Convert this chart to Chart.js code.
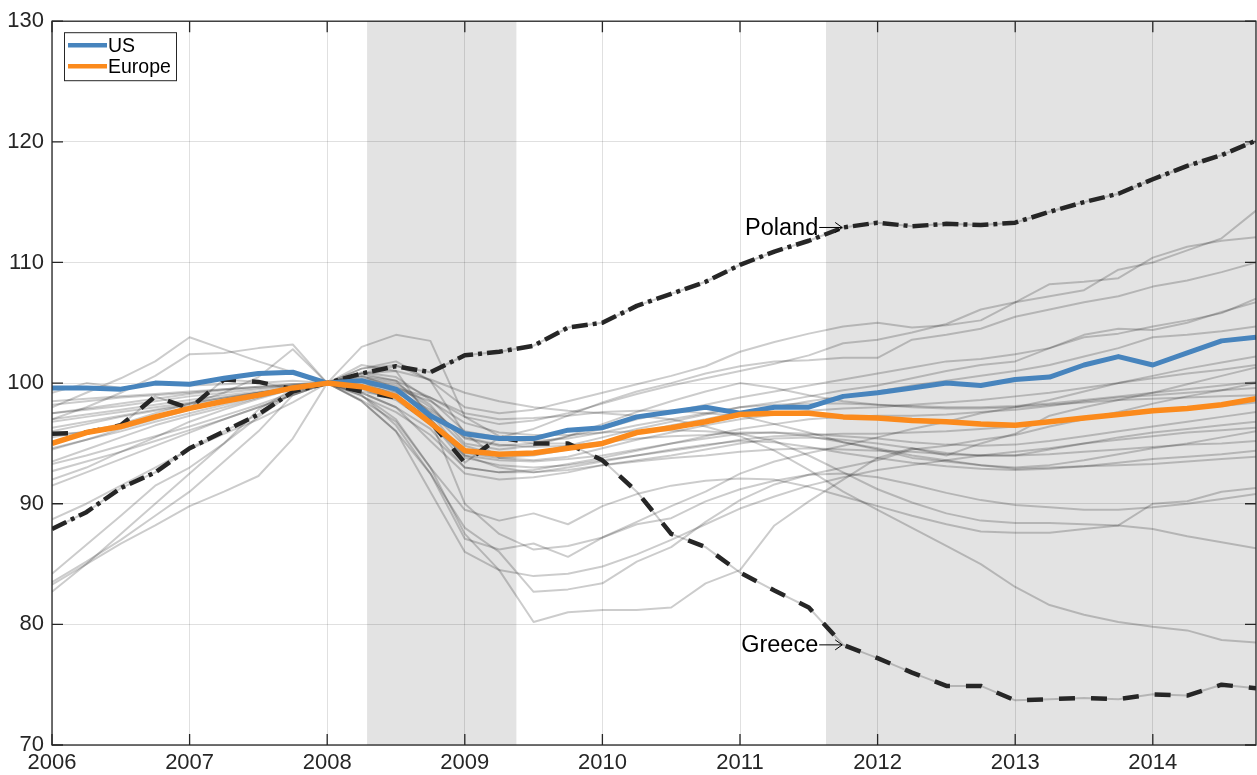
<!DOCTYPE html>
<html>
<head>
<meta charset="utf-8">
<script src="https://cdn.jsdelivr.net/npm/chart.js@4.4.1/dist/chart.umd.min.js"></script>
<style>
  html, body { margin: 0; padding: 0; background: #fff; }
  .wrap { width: 1257px; height: 775px; }
</style>
</head>
<body>
<div class="wrap"><canvas id="myChart"></canvas></div>
<script>
// quarters on the x axis
let quarters = [2006, 2006.25, 2006.5, 2006.75, 2007, 2007.25, 2007.5, 2007.75, 2008,
  2008.25, 2008.5, 2008.75, 2009, 2009.25, 2009.5, 2009.75, 2010, 2010.25,
  2010.5, 2010.75, 2011, 2011.25, 2011.5, 2011.75, 2012, 2012.25, 2012.5,
  2012.75, 2013, 2013.25, 2013.5, 2013.75, 2014, 2014.25, 2014.5, 2014.75];

let xTicks = [2006, 2007, 2008, 2009, 2010, 2011, 2012, 2013, 2014];
let yTicks = [70, 80, 90, 100, 110, 120, 130];

// shaded recession periods [start, end]
let recessions = [[2008.29, 2009.375], [2011.625, 2014.75]];

let us = [99.6, 99.6, 99.5, 100.0, 99.9, 100.4, 100.8, 100.9, 100,
  100.2, 99.5, 97.3, 95.8, 95.4, 95.4, 96.1, 96.3, 97.2,
  97.6, 98.0, 97.5, 98.0, 98.0, 98.9, 99.2, 99.6, 100.0,
  99.8, 100.3, 100.5, 101.5, 102.2, 101.5, 102.5, 103.5, 103.8];

let europe = [95.0, 95.9, 96.4, 97.2, 97.9, 98.5, 99.0, 99.6, 100,
  99.7, 98.9, 96.7, 94.4, 94.1, 94.2, 94.6, 95.0, 95.9,
  96.3, 96.8, 97.4, 97.5, 97.5, 97.2, 97.1, 96.9, 96.8,
  96.6, 96.5, 96.8, 97.1, 97.4, 97.7, 97.9, 98.2, 98.7];

let poland = [87.9, 89.3, 91.3, 92.6, 94.6, 96.0, 97.4, 99.3, 100,
  100.8, 101.4, 100.9, 102.3, 102.6, 103.1, 104.6, 105.0, 106.4,
  107.4, 108.4, 109.8, 110.9, 111.8, 112.9, 113.3, 113.0, 113.2,
  113.1, 113.3, 114.2, 115.0, 115.7, 116.9, 118.0, 118.9, 120.1];

let greece = [95.8, 95.9, 96.5, 98.9, 97.9, 100.3, 100.1, 99.5, 100,
  99.3, 98.8, 96.8, 93.4, 95.5, 95.0, 95.0, 93.6, 91.0,
  87.5, 86.4, 84.3, 82.8, 81.4, 78.3, 77.2, 76.0, 74.9,
  74.9, 73.7, 73.8, 73.9, 73.8, 74.2, 74.1, 75.0, 74.7];

// other european countries (grey)
let grey01 = [92.0, 93.0, 94.3, 95.5, 96.8, 97.8, 98.7, 99.5, 100, 100.6, 100.2, 98.8, 97.2, 96.6, 96.9, 97.5, 98.3, 99.1, 99.8, 100.4, 101.0, 101.6, 102.3, 103.3, 103.6, 104.2, 104.9, 106.1, 106.7, 107.2, 107.7, 109.4, 110.0, 111.0, 112.0, 114.3];
let grey02 = [94.5, 95.3, 96.2, 97.0, 97.8, 98.5, 99.0, 99.6, 100, 101.2, 101.5, 100.2, 98.0, 97.5, 97.8, 98.5, 99.2, 99.9, 100.6, 101.4, 102.6, 103.4, 104.1, 104.7, 105.0, 104.6, 104.8, 105.2, 106.7, 108.2, 108.4, 108.7, 110.4, 111.3, 111.8, 112.1];
let grey03 = [93.5, 94.5, 95.5, 96.5, 97.3, 98.0, 98.8, 99.5, 100, 100.9, 100.5, 98.6, 96.0, 95.5, 96.2, 97.3, 98.4, 99.3, 100.0, 100.8, 101.4, 101.8, 101.9, 102.1, 102.1, 103.6, 104.0, 104.5, 105.5, 106.1, 106.7, 107.2, 108.0, 108.5, 109.2, 110.0];
let grey04 = [96.8, 97.2, 97.6, 98.0, 98.4, 98.8, 99.2, 99.6, 100, 100.4, 99.8, 98.0, 95.4, 94.8, 95.0, 95.6, 96.2, 97.0, 97.6, 98.2, 98.8, 99.3, 99.8, 100.3, 100.8, 101.3, 101.8, 102.0, 102.4, 102.9, 103.8, 104.1, 104.7, 105.2, 105.8, 107.0];
let grey05 = [97.5, 97.8, 98.1, 98.5, 98.9, 99.2, 99.5, 99.8, 100, 100.2, 99.3, 97.6, 94.8, 94.0, 94.2, 94.8, 95.5, 96.2, 96.8, 97.4, 98.0, 98.4, 98.9, 99.4, 99.8, 100.4, 101.0, 101.5, 101.8, 102.9, 104.0, 104.5, 104.4, 105.0, 105.9, 106.7];
let grey06 = [98.2, 98.5, 98.8, 99.0, 99.2, 99.5, 99.7, 99.9, 100, 100.1, 99.0, 97.0, 94.2, 93.8, 94.0, 94.5, 95.0, 95.8, 96.5, 97.0, 97.6, 98.0, 98.5, 98.9, 99.3, 99.8, 100.2, 100.6, 101.0, 101.5, 102.2, 102.9, 103.8, 104.0, 104.3, 104.7];
let grey07 = [84.2, 86.6, 89.0, 91.5, 93.0, 95.0, 97.2, 99.2, 100, 101.5, 101.0, 97.0, 90.0, 87.5, 86.2, 86.5, 87.2, 88.5, 89.8, 91.0, 92.5, 93.5, 94.2, 94.8, 95.5, 96.2, 96.8, 97.5, 98.0, 98.6, 99.3, 100.0, 100.6, 101.2, 101.7, 102.2];
let grey08 = [82.7, 85.0, 87.5, 90.0, 92.5, 95.0, 97.8, 99.5, 100, 99.0, 97.0, 93.0, 87.5, 84.5, 80.2, 81.0, 81.2, 81.2, 81.4, 83.4, 84.5, 88.2, 90.2, 92.0, 93.8, 94.6, 94.0, 95.0, 95.8, 97.3, 98.0, 98.6, 99.2, 99.9, 100.6, 101.3];
let grey09 = [83.5, 85.2, 87.0, 89.0, 91.0, 93.5, 96.0, 99.0, 100, 98.5, 96.0, 92.5, 88.0, 86.0, 82.7, 82.9, 83.4, 85.2, 86.4, 88.5, 90.3, 91.6, 92.4, 93.0, 93.6, 94.5, 94.8, 95.3, 95.7, 96.4, 97.0, 97.6, 98.3, 98.9, 99.4, 100.0];
let grey10 = [95.5, 96.0, 96.6, 97.2, 97.8, 98.4, 98.9, 99.5, 100, 99.2, 98.0, 96.2, 93.0, 92.6, 92.8, 93.3, 93.8, 94.4, 95.0, 95.6, 96.2, 96.6, 97.0, 97.2, 97.3, 97.3, 97.4, 97.6, 97.8, 98.1, 98.5, 98.8, 99.0, 99.2, 99.4, 99.6];
let grey11 = [97.0, 97.4, 97.8, 98.2, 98.6, 99.0, 99.3, 99.7, 100, 100.6, 99.6, 97.0, 93.8, 93.2, 93.0, 93.2, 93.6, 94.0, 94.4, 94.8, 95.3, 95.6, 95.7, 95.8, 95.8, 95.9, 96.0, 96.2, 96.4, 96.8, 97.1, 97.4, 97.7, 97.9, 98.1, 98.4];
let grey12 = [99.2, 100.0, 99.6, 100.0, 99.8, 99.9, 100.0, 100.2, 100, 99.5, 98.6, 96.6, 94.0, 93.6, 93.5, 93.7, 94.0, 94.5, 95.0, 95.4, 95.8, 95.9, 95.8, 95.6, 95.4, 95.1, 94.9, 94.8, 94.9, 95.2, 95.6, 96.0, 96.4, 96.8, 97.2, 97.6];
let grey13 = [96.0, 96.6, 97.2, 97.7, 98.2, 98.7, 99.2, 99.6, 100, 99.2, 98.0, 95.2, 92.5, 92.0, 92.2, 92.6, 93.2, 93.6, 94.0, 94.5, 95.0, 95.4, 95.5, 95.3, 95.0, 94.6, 94.2, 94.0, 94.0, 94.5, 95.0, 95.5, 95.9, 96.2, 96.5, 96.8];
let grey14 = [94.6, 95.3, 96.0, 96.8, 97.5, 98.2, 98.9, 99.5, 100, 99.8, 99.2, 97.8, 95.5, 94.9, 94.7, 94.8, 95.1, 95.4, 95.6, 95.7, 95.9, 95.9, 95.6, 95.1, 94.6, 94.0, 93.6, 93.2, 93.0, 93.2, 93.6, 94.1, 94.6, 95.0, 95.5, 96.0];
let grey15 = [97.5, 97.9, 98.3, 98.7, 99.1, 99.4, 99.6, 99.8, 100, 98.9, 97.6, 95.7, 93.0, 92.6, 92.6, 93.0, 93.5, 94.0, 94.5, 94.9, 95.2, 95.1, 94.7, 94.2, 93.8, 93.4, 93.1, 92.9, 92.8, 92.9, 93.1, 93.4, 93.7, 93.9, 94.1, 94.4];
let grey16 = [98.5, 98.7, 98.9, 99.1, 99.3, 99.5, 99.7, 99.9, 100, 99.9, 99.6, 98.8, 97.5, 97.0, 97.1, 97.3, 97.6, 97.7, 97.7, 97.5, 97.3, 96.6, 95.9, 95.1, 94.5, 93.8, 93.5, 93.2, 92.9, 93.0, 93.1, 93.2, 93.3, 93.5, 93.7, 93.9];
let grey17 = [93.3, 94.0, 94.8, 95.6, 96.4, 97.3, 98.2, 99.2, 100, 98.6, 96.8, 93.0, 89.5, 88.6, 89.2, 88.3, 89.8, 90.8, 91.5, 91.9, 92.1, 92.0, 91.4, 90.6, 89.8, 89.0, 88.3, 87.7, 87.6, 87.6, 87.9, 88.2, 90.0, 90.2, 91.0, 91.3];
let grey18 = [92.7, 93.5, 94.3, 95.2, 96.1, 97.0, 98.0, 99.0, 100, 99.0, 96.5, 92.5, 87.1, 86.2, 86.7, 85.6, 87.2, 88.3, 88.8, 90.2, 91.2, 91.9, 92.4, 92.5, 92.2, 91.6, 90.9, 90.3, 89.9, 89.7, 89.5, 89.5, 89.7, 90.0, 90.4, 90.8];
let grey19 = [96.3, 96.8, 97.3, 97.8, 98.3, 98.8, 99.2, 99.6, 100, 100.2, 99.5, 98.5, 96.7, 95.9, 95.7, 95.7, 95.9, 96.0, 96.1, 96.0, 95.8, 95.2, 94.0, 92.6, 91.2, 90.1, 89.2, 88.6, 88.4, 88.4, 88.3, 88.2, 87.9, 87.3, 86.8, 86.3];
let grey20 = [91.5, 92.6, 93.7, 94.8, 95.9, 97.0, 98.0, 99.0, 100, 100.8, 101.0, 100.3, 99.2, 98.5, 98.0, 97.7, 97.5, 97.3, 97.0, 96.4, 95.6, 94.4, 92.8, 91.0, 89.5, 88.0, 86.5, 85.0, 83.1, 81.6, 80.8, 80.2, 79.8, 79.5, 78.7, 78.5];
let grey21 = [98.0, 99.2, 100.4, 101.8, 103.8, 102.8, 101.8, 100.9, 100, 100.8, 100.2, 97.5, 94.0, 93.0, 92.6, 92.8, 93.2, 93.5, 93.8, 94.0, 94.3, 94.5, 94.6, 94.5, 94.4, 94.3, 94.1, 94.0, 94.0, 94.1, 94.3, 94.5, 94.7, 94.9, 95.0, 95.2];
let grey22 = [97.0, 98.0, 99.2, 100.6, 102.4, 102.5, 102.9, 103.2, 100, 103.0, 104.0, 103.5, 97.2, 95.6, 95.2, 95.4, 95.9, 96.5, 97.0, 97.5, 98.0, 98.2, 98.3, 98.3, 98.2, 98.1, 98.0, 98.0, 98.1, 98.3, 98.6, 98.9, 99.2, 99.5, 99.8, 100.1];
let grey23 = [95.0, 95.8, 96.6, 97.5, 98.3, 99.2, 100.5, 102.8, 100, 101.2, 101.8, 100.2, 95.8, 93.8, 93.6, 93.9, 94.6, 95.3, 95.9, 96.5, 97.0, 97.4, 97.7, 97.9, 98.0, 98.2, 98.4, 98.6, 98.9, 99.2, 99.6, 100.0, 100.4, 100.8, 101.1, 101.5];
let grey24 = [83.3, 85.0, 86.7, 88.2, 89.8, 91.0, 92.3, 95.4, 100, 98.5, 96.0, 91.0, 86.0, 84.5, 84.0, 84.2, 84.8, 85.8, 87.0, 88.3, 89.6, 90.6, 91.5, 92.2, 92.8, 93.2, 93.6, 94.0, 94.3, 94.6, 95.0, 95.3, 95.6, 95.9, 96.1, 96.3];
let grey25 = [88.7, 90.0, 91.5, 93.0, 94.5, 95.8, 97.0, 98.4, 100, 100.5, 100.0, 98.2, 95.0, 94.5, 94.8, 95.6, 96.6, 97.6, 98.5, 99.3, 100.0, 99.6, 99.0, 98.5, 98.2, 98.0, 97.9, 97.9, 98.0, 98.2, 98.4, 98.6, 98.7, 98.8, 98.9, 99.0];

let greyLines = [grey01, grey02, grey03, grey04, grey05, grey06, grey07, grey08, grey09,
  grey10, grey11, grey12, grey13, grey14, grey15, grey16, grey17, grey18, grey19,
  grey20, grey21, grey22, grey23, grey24, grey25, greece, poland];

let labelled = [
  { name: "Poland", values: poland, at: 23 },
  { name: "Greece", values: greece, at: 23 },
];

let fontName = '"Liberation Sans", Arial, Helvetica, sans-serif';
let ink = "#262626";

function points(vals) {
  return vals.map((v, i) => ({ x: quarters[i], y: v }));
}

let datasets = [
  { label: "Europe", data: points(europe), borderColor: "#fb8a1c", borderWidth: 5.5, order: 0 },
  { label: "US", data: points(us), borderColor: "#4784bd", borderWidth: 5, order: 1 },
  { label: "Poland", data: points(poland), borderColor: ink, borderWidth: 4.5, borderDash: [16, 5, 4, 5], borderCapStyle: "butt", order: 2 },
  { label: "Greece", data: points(greece), borderColor: ink, borderWidth: 4.5, borderDash: [16, 16], borderCapStyle: "butt", order: 3 },
];
greyLines.forEach((g, k) => {
  datasets.push({ label: "", data: points(g), borderColor: "rgba(0,0,0,0.2)", borderWidth: 2, order: 10 + k });
});

// shading behind the grid
let shading = {
  id: "shading",
  beforeDraw(chart) {
    let { ctx, chartArea, scales } = chart;
    ctx.save();
    ctx.fillStyle = "#e3e3e3";
    recessions.forEach(([a, b]) => {
      let x1 = scales.x.getPixelForValue(a);
      let x2 = scales.x.getPixelForValue(b);
      ctx.fillRect(x1, chartArea.top, x2 - x1, chartArea.bottom - chartArea.top);
    });
    ctx.restore();
  },
};

// box with inward ticks, legend and country labels
let decorations = {
  id: "decorations",
  afterDraw(chart) {
    let { ctx, chartArea, scales } = chart;
    let { left, right, top, bottom } = chartArea;
    ctx.save();
    ctx.strokeStyle = ink;
    ctx.lineWidth = 1.3;
    ctx.strokeRect(left, top, right - left, bottom - top);
    ctx.beginPath();
    xTicks.forEach((v) => {
      let x = scales.x.getPixelForValue(v);
      ctx.moveTo(x, bottom); ctx.lineTo(x, bottom - 11);
      ctx.moveTo(x, top); ctx.lineTo(x, top + 11);
    });
    yTicks.forEach((v) => {
      let y = scales.y.getPixelForValue(v);
      ctx.moveTo(left, y); ctx.lineTo(left + 11, y);
      ctx.moveTo(right, y); ctx.lineTo(right - 11, y);
    });
    ctx.stroke();

    // legend
    let lx = left + 12, ly = top + 11;
    ctx.fillStyle = "#fff";
    ctx.fillRect(lx, ly, 112, 48);
    ctx.lineWidth = 1;
    ctx.strokeStyle = ink;
    ctx.strokeRect(lx + 0.5, ly + 0.5, 112, 48);
    ctx.font = "19.5px " + fontName;
    ctx.textBaseline = "middle";
    ctx.textAlign = "left";
    [datasets[1], datasets[0]].forEach((d, k) => {
      let yy = ly + 13 + k * 21;
      ctx.strokeStyle = d.borderColor;
      ctx.lineWidth = 4.5;
      ctx.beginPath();
      ctx.moveTo(lx + 4, yy); ctx.lineTo(lx + 43, yy);
      ctx.stroke();
      ctx.fillStyle = "#000";
      ctx.fillText(d.label, lx + 44, yy + 1);
    });

    // country labels with arrows
    ctx.font = "23.5px " + fontName;
    ctx.textAlign = "right";
    labelled.forEach((c) => {
      let px = scales.x.getPixelForValue(quarters[c.at]);
      let py = scales.y.getPixelForValue(c.values[c.at]);
      ctx.strokeStyle = "#000";
      ctx.lineWidth = 1;
      ctx.beginPath();
      ctx.moveTo(px - 24, py); ctx.lineTo(px - 1, py);
      ctx.moveTo(px - 8, py - 5); ctx.lineTo(px - 1, py); ctx.lineTo(px - 8, py + 5);
      ctx.stroke();
      ctx.fillStyle = "#000";
      ctx.fillText(c.name, px - 25, py + 1);
    });
    ctx.restore();
  },
};

const ctx = document.getElementById("myChart");
new Chart(ctx, {
  type: "line",
  data: { datasets: datasets },
  options: {
    responsive: true,
    maintainAspectRatio: false,
    animation: false,
    events: [],
    layout: { padding: { top: 18, right: 1, left: 0, bottom: 0 } },
    elements: {
      point: { radius: 0 },
      line: { tension: 0, borderJoinStyle: "round" },
    },
    plugins: {
      legend: { display: false },
      tooltip: { enabled: false },
    },
    scales: {
      x: {
        type: "linear",
        min: 2006,
        max: 2014.75,
        afterBuildTicks: (s) => { s.ticks = xTicks.map((v) => ({ value: v })); },
        afterFit: (s) => { s.height = 30; },
        ticks: {
          callback: (v) => String(v),
          font: { family: fontName, size: 22 },
          color: ink,
          padding: 5,
          maxRotation: 0,
        },
        grid: { color: "rgba(0,0,0,0.12)", lineWidth: 1, drawTicks: false },
        border: { display: false },
      },
      y: {
        min: 70,
        max: 130,
        afterBuildTicks: (s) => { s.ticks = yTicks.map((v) => ({ value: v })); },
        afterFit: (s) => { s.width = 52; },
        ticks: {
          font: { family: fontName, size: 22 },
          color: ink,
          padding: 8,
        },
        grid: { color: "rgba(0,0,0,0.12)", lineWidth: 1, drawTicks: false },
        border: { display: false },
      },
    },
  },
  plugins: [shading, decorations],
});
</script>
</body>
</html>
